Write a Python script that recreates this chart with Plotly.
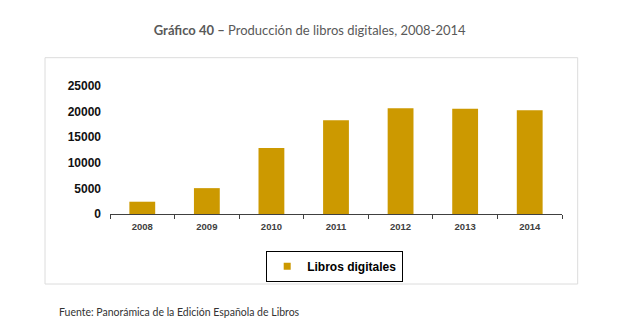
import plotly.graph_objects as go

years = ["2008", "2009", "2010", "2011", "2012", "2013", "2014"]
libros_digitales = [2400, 5050, 12900, 18300, 20650, 20550, 20250]
y_ticks = [0, 5000, 10000, 15000, 20000, 25000]

BAR_COLOR = "#CC9900"

# layout geometry (pixels)
W, H = 625, 336
L, R, T, B = 110, 63, 86, 122
pw, ph = W - L - R, H - T - B

def px_x(x):
    return (x - L) / pw

def px_y(y):
    return (H - B - y) / ph

fig = go.Figure()
fig.add_trace(go.Bar(
    x=years, y=libros_digitales, name="Libros digitales",
    marker=dict(color=BAR_COLOR, line=dict(width=0)),
    showlegend=False,
))
# legend proxy with a small square swatch
fig.add_trace(go.Scatter(
    x=[None], y=[None], mode="markers", name="Libros digitales",
    marker=dict(symbol="square", size=7, color=BAR_COLOR),
    showlegend=True,
))

fig.update_layout(
    width=W, height=H,
    margin=dict(l=L, r=R, t=T, b=B, pad=0),
    paper_bgcolor="white", plot_bgcolor="white",
    template="none",
    bargap=0.6,
    title=dict(
        text="<b>Gráfico 40 –</b> Producción de libros digitales, 2008-2014",
        font=dict(family="Lato", size=13, color="#595959"),
        xref="container", yref="container",
        x=309.7 / W, y=1 - 30 / H, xanchor="center", yanchor="middle",
    ),
    xaxis=dict(
        type="category",
        showline=True, linecolor="#404040", linewidth=1,
        ticks="outside", tickson="boundaries", ticklen=4,
        tickcolor="#404040", tickwidth=1,
        tickfont=dict(family="Liberation Sans", size=9.5, color="#404040", weight="bold"),
        showgrid=False, zeroline=False, automargin=False,
        ticklabelstandoff=4,
    ),
    yaxis=dict(
        range=[0, 25000],
        tickvals=y_ticks,
        ticktext=[str(v) for v in y_ticks],
        showline=False, showgrid=False, zeroline=False,
        ticks="",
        tickfont=dict(family="Liberation Sans", size=12, color="#111111", weight="bold"),
        automargin=False,
        ticklabelstandoff=8,
    ),
    legend=dict(
        x=px_x(334.7), y=px_y(250.7), xanchor="center", yanchor="top",
        orientation="h",
        bordercolor="#000000", borderwidth=1, bgcolor="white",
        font=dict(family="Liberation Sans", size=12, color="#000000", weight="bold"),
        itemwidth=30,
    ),
    shapes=[dict(
        type="rect", xref="paper", yref="paper",
        x0=px_x(45), x1=px_x(577.7), y0=px_y(284), y1=px_y(57.7),
        line=dict(color="#dcdcdc", width=1), fillcolor="rgba(0,0,0,0)",
        layer="below",
    )],
    annotations=[dict(
        text="Fuente: Panorámica de la Edición Española de Libros",
        xref="paper", yref="paper",
        x=px_x(56.7), y=px_y(312.3), xanchor="left", yanchor="middle",
        showarrow=False,
        font=dict(family="Lato", size=10.5, color="#333333"),
    )],
)

fig.write_html("out.html")
